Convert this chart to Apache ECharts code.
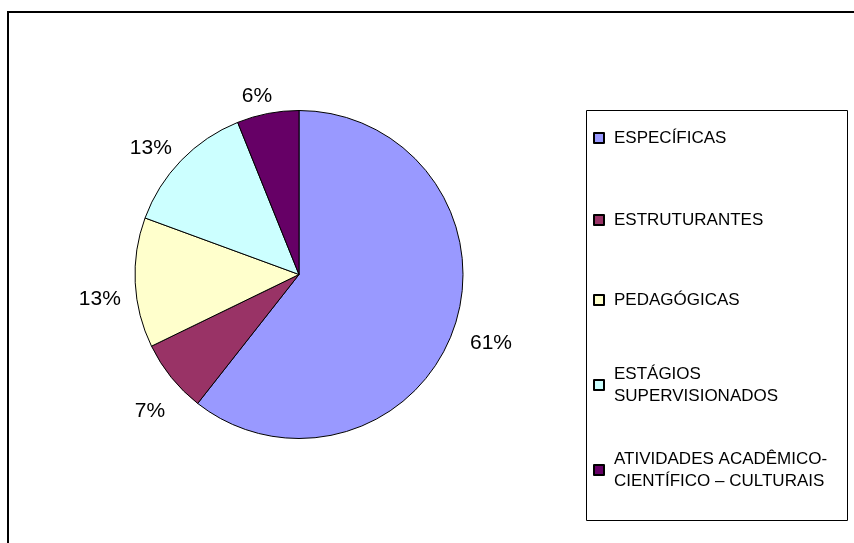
<!DOCTYPE html>
<html>
<head>
<meta charset="utf-8">
<script src="https://cdn.jsdelivr.net/npm/echarts@6/dist/echarts.min.js"></script>
<style>
html,body{margin:0;padding:0;background:#fff;}
#chart{width:854px;height:543px;}
</style>
</head>
<body>
<div id="chart"></div>
<script>
const categories = ['ESPECÍFICAS', 'ESTRUTURANTES', 'PEDAGÓGICAS', 'ESTÁGIOS SUPERVISIONADOS', 'ATIVIDADES ACADÊMICO-CIENTÍFICO – CULTURAIS'];
const legendLabels = ['ESPECÍFICAS', 'ESTRUTURANTES', 'PEDAGÓGICAS', 'ESTÁGIOS\nSUPERVISIONADOS', 'ATIVIDADES ACADÊMICO-\nCIENTÍFICO – CULTURAIS'];
const values = [60.6, 7.2, 12.8, 13.3, 6.1];
const colors = ['#9999FF', '#993366', '#FFFFCC', '#CCFFFF', '#660066'];

const FONT = '"Liberation Sans", Arial, sans-serif';
const CX = 299, CY = 274.5, R = 164;
const legendIconCenters = [138, 220, 300, 385, 470];

const total = values.reduce((a, b) => a + b, 0);

const legends = categories.map((name, i) => {
  const twoLine = legendLabels[i].indexOf('\n') >= 0;
  return {
    data: [name],
    orient: 'vertical',
    left: 593,
    top: legendIconCenters[i] - 5 - (twoLine ? 28 : 6),
    padding: 0,
    itemWidth: 10,
    itemHeight: 10,
    icon: 'rect',
    selectedMode: false,
    formatter: () => legendLabels[i],
    textStyle: {
      fontFamily: FONT,
      fontSize: 17,
      lineHeight: 22,
      color: '#000',
      padding: twoLine ? [22, 0, 0, 5] : [0, 0, 0, 5]
    }
  };
});

const chart = echarts.init(document.getElementById('chart'), null, {renderer: 'canvas'});
chart.setOption({
  animation: false,
  backgroundColor: '#fff',
  color: colors,
  legend: legends,
  graphic: [
    {type: 'rect', shape: {x: 8, y: 12, width: 900, height: 600}, style: {fill: 'none', stroke: '#000', lineWidth: 2}, z: 0},
    {type: 'rect', shape: {x: 586.5, y: 110.5, width: 261, height: 410}, style: {fill: 'none', stroke: '#000', lineWidth: 1}, z: 0}
  ],
  series: [{
    type: 'pie',
    center: [CX, CY],
    radius: R,
    startAngle: 90,
    clockwise: true,
    avoidLabelOverlap: false,
    data: categories.map((n, i) => ({name: n, value: values[i]})),
    itemStyle: {borderColor: '#000', borderWidth: 1},
    emphasis: {disabled: true},
    percentPrecision: 0,
    label: {
      show: true,
      position: 'outside',
      formatter: '{d}%',
      fontFamily: FONT,
      fontSize: 21,
      color: '#000'
    },
    labelLine: {show: false, length: 10, length2: 0},
    labelLayout: function (p) {
      const i = p.dataIndex;
      let cum = 0;
      for (let k = 0; k < i; k++) cum += values[k];
      const mid = (cum + values[i] / 2) / total * Math.PI * 2 - 0.03;
      const s = Math.sin(mid), c = Math.cos(mid);
      const w = p.labelRect.width, h = p.labelRect.height;
      const d = R + 14 + Math.abs(s) * w / 2 + Math.abs(c) * h / 2;
      return {x: CX + d * s, y: CY - d * c + 9, align: 'center', verticalAlign: 'middle'};
    }
  }]
});
</script>
</body>
</html>
